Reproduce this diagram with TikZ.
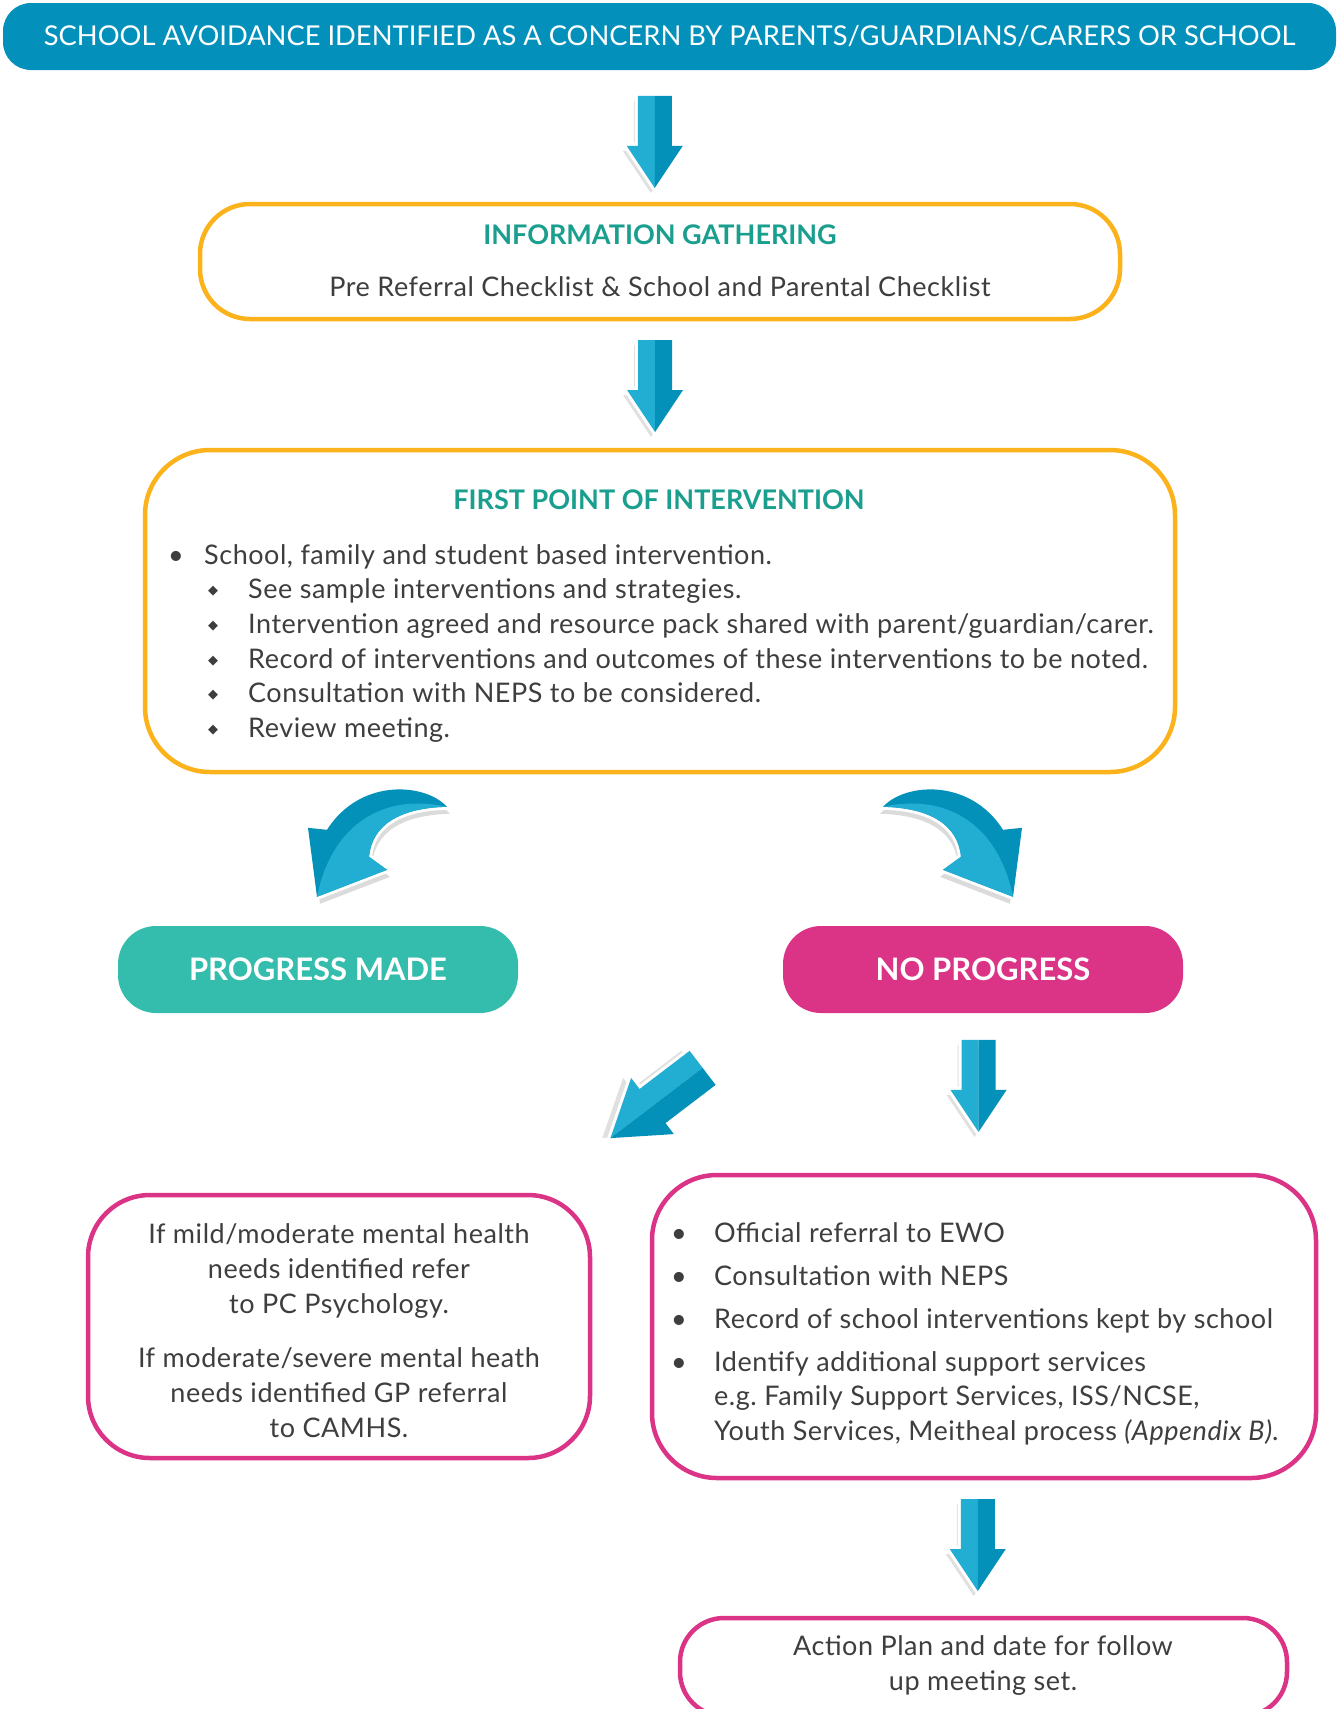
\documentclass[tikz,border=0pt]{standalone}
\usepackage{fontspec}
\setmainfont{Lato}
\newfontfamily\spacedfont[LetterSpace=2]{Lato}
\newfontfamily\symfont{DejaVu Sans}
\usetikzlibrary{calc}

\definecolor{headblue}{HTML}{0391BC}
\definecolor{arrowlight}{HTML}{22ADD2}
\definecolor{arrowdark}{HTML}{0391BA}
\definecolor{boxorange}{HTML}{FBB21B}
\definecolor{titleteal}{HTML}{1A9F8F}
\definecolor{madeteal}{HTML}{34BDAC}
\definecolor{nomagenta}{HTML}{DB3486}
\definecolor{bodygray}{HTML}{3E3E3E}

\tikzset{
  flowbox/.style={draw=#1, line width=4.5pt, fill=white, inner sep=0pt},
  pillbox/.style={fill=#1, text=white, inner sep=0pt, font=\bfseries\fontsize{31}{34}\selectfont},
  bodytext/.style={text=bodygray, inner sep=0pt, font=\spacedfont\fontsize{27}{32}\selectfont},
  titletext/.style={text=titleteal, inner sep=0pt, font=\bfseries\fontsize{27}{30}\selectfont},
  pics/blockarrow/.style={code={
    \fill[black, opacity=.12, shift={(-4,5)}] (-17,-46) -- (17,-46) -- (17,4) -- (28,4) -- (0,46) -- (-28,4) -- (-17,4) -- cycle;
    \draw[white, line width=6pt] (-17,-46) -- (17,-46) -- (17,4) -- (28,4) -- (0,46) -- (-28,4) -- (-17,4) -- cycle;
    \fill[arrowlight] (-17,-46) -- (0,-46) -- (0,46) -- (-28,4) -- (-17,4) -- cycle;
    \fill[arrowdark] (0,-46) -- (17,-46) -- (17,4) -- (28,4) -- (0,46) -- cycle;
  }},
  pics/bentarrow/.style={code={
    \fill[black, opacity=.14, shift={(3,7)}] (67,-38) .. controls (45,-62) and (-20,-67) .. (-53,-15) -- (-72,-17) -- (-63,52) -- (7,25) -- (-11,12) .. controls (-8,-20) and (20,-37) .. (67,-38) -- cycle;
    \draw[white, line width=6pt] (67,-38) .. controls (45,-62) and (-20,-67) .. (-53,-15) -- (-72,-17) -- (-63,52) -- (7,25) -- (-11,12) .. controls (-8,-20) and (20,-37) .. (67,-38) -- cycle;
    \fill[arrowdark] (67,-38) .. controls (45,-62) and (-20,-67) .. (-53,-15) -- (-72,-17) -- (-63,52) -- (7,25) -- (-11,12) .. controls (-8,-20) and (20,-37) .. (67,-38) -- cycle;
    \fill[arrowlight] (-63,52) -- (7,25) -- (-11,12) .. controls (-8,-20) and (20,-37) .. (67,-38) .. controls (5,-52) and (-48,-22) .. (-63,52) -- cycle;
  }}
}

\begin{document}
\begin{tikzpicture}[x=1pt, y=-1pt, line join=round]
  \useasboundingbox (0,0) rectangle (1338,1709);
  % boxes
  \node[fill=headblue, rounded corners=28pt, minimum width=1333pt, minimum height=67pt, text=white, inner sep=0pt, font=\fontsize{27.3}{30}\selectfont] (top) at (669.5,36.5) {SCHOOL AVOIDANCE IDENTIFIED AS A CONCERN BY PARENTS/GUARDIANS/CARERS OR SCHOOL};

  \node[flowbox=boxorange, rounded corners=50pt, minimum width=920pt, minimum height=115pt] (info) at (660,261.5) {};
  \node[titletext] (infotitle) at (660,235) {INFORMATION GATHERING};
  \node[bodytext] (infotext) at (660,287) {Pre Referral Checklist \& School and Parental Checklist};

  \node[flowbox=boxorange, rounded corners=65pt, minimum width=1030pt, minimum height=322pt] (first) at (660,611) {};
  \node[titletext] (firsttitle) at (659,500) {FIRST POINT OF INTERVENTION};
  \node[bodytext, anchor=base west] (firstbullet) at (168,564) {\makebox[36pt][l]{•}School, family and student based intervention.};
  \foreach \txt [count=\i] in {See sample interventions and strategies., Intervention agreed and resource pack shared with parent/guardian/carer., Record of interventions and outcomes of these interventions to be noted., Consultation with NEPS to be considered., Review meeting.}
    \node[bodytext, anchor=base west] (firstsub\i) at (208,{564+34.7*\i}) {\makebox[40pt][l]{\raisebox{4pt}{\symfont\fontsize{13}{13}\selectfont ◆}}\txt};

  \node[pillbox=madeteal, rounded corners=38pt, minimum width=400pt, minimum height=87pt] (made) at (318,969.5) {PROGRESS MADE};
  \node[pillbox=nomagenta, rounded corners=38pt, minimum width=400pt, minimum height=87pt] (noprog) at (983,969.5) {NO PROGRESS};

  \node[flowbox=nomagenta, rounded corners=62pt, minimum width=502pt, minimum height=263pt] (mild) at (339,1326.5) {};
  \foreach \txt [count=\i] in {If mild/moderate mental health, needs identified refer, to PC Psychology., If moderate/severe mental heath, needs identified GP referral, to CAMHS.}
    \node[bodytext, anchor=base] (mild\i) at (339,{1243+35*(\i-1)+19*(\i>3)}) {\txt};

  \node[flowbox=nomagenta, rounded corners=65pt, minimum width=664pt, minimum height=303pt] (support) at (984,1326.5) {};
  \foreach \txt [count=\i] in {Official referral to EWO, Consultation with NEPS, Record of school interventions kept by school, Identify additional support services}
    \node[bodytext, anchor=base west] (support\i) at (671,{1242+43*(\i-1)}) {\makebox[43pt][l]{•}\txt};
  \node[bodytext, anchor=base west] (support5) at (714,1405) {e.g.\ Family Support Services, ISS/NCSE,};
  \node[bodytext, anchor=base west] (support6) at (714,1440) {Youth Services, Meitheal process \textit{(Appendix B)}.};

  \node[flowbox=nomagenta, rounded corners=44pt, minimum width=607pt, minimum height=98pt] (action) at (983.5,1667) {};
  \node[bodytext, anchor=base] (action1) at (983,1655) {Action Plan and date for follow};
  \node[bodytext, anchor=base] (action2) at (983,1690) {up meeting set.};

  % arrows
  \pic at ($(top.south)!.5!(info.north)+(-10,6)$) {blockarrow};
  \pic at ($(info.south)!.5!(first.north)+(-5,1.5)$) {blockarrow};
  \pic at ($(made.north)+(62,-81)$) {bentarrow};
  \pic[xscale=-1] at ($(noprog.north)+(-33,-81)$) {bentarrow};
  \pic[rotate=-52.7, scale=1.26] at ($(noprog.south west)!.5!(mild.north east)+(-31,0)$) {blockarrow};
  \pic at ($(noprog.south)!.5!(support.north)+(-5,-7)$) {blockarrow};
  \pic at ($(support.south)!.5!(action.north)+(-6,-3)$) {blockarrow};
\end{tikzpicture}
\end{document}
